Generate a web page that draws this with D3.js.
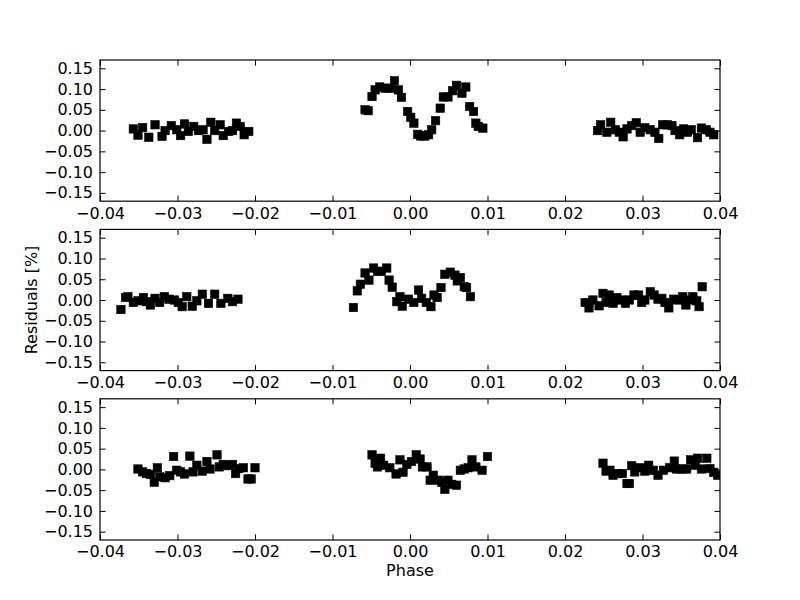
<!DOCTYPE html>
<html><head><meta charset="utf-8">
<script src="https://cdn.jsdelivr.net/npm/d3@7"></script>
<style>body{margin:0;background:#fff}svg{display:block}text{font-family:"DejaVu Sans",sans-serif}</style>
</head><body>
<svg id="c" width="800" height="600"></svg>
<script>
const xTicks = [-0.04,-0.03,-0.02,-0.01,0.0,0.01,0.02,0.03,0.04];
const yTicks = [-0.15,-0.10,-0.05,0.00,0.05,0.10,0.15];
const xLabel = "Phase";
const yLabel = "Residuals [%]";

const p1x = [-0.0357,-0.0351,-0.0345,-0.0337,-0.0329,-0.0320,-0.0316,-0.0308,-0.0301,-0.0296,-0.0291,-0.0286,-0.0279,-0.0273,-0.0267,-0.0262,-0.0257,-0.0252,-0.0245,-0.0241,-0.0234,-0.0229,-0.0224,-0.0219,-0.0214,-0.0208,
 -0.0058,-0.0054,-0.0049,-0.0045,-0.0039,-0.0032,-0.0026,-0.0020,-0.0015,-0.0011,-0.0003,0.0001,0.0005,0.0010,0.0014,0.0019,0.0024,0.0028,0.0033,0.0039,0.0043,0.0049,0.0055,0.0060,0.0067,0.0072,0.0077,0.0082,0.0085,0.0088,0.0094,
 0.0242,0.0246,0.0254,0.0259,0.0265,0.0270,0.0275,0.0280,0.0286,0.0292,0.0297,0.0303,0.0310,0.0316,0.0321,0.0326,0.0332,0.0338,0.0342,0.0348,0.0353,0.0358,0.0363,0.0371,0.0376,0.0382,0.0387,0.0392];
const p1y = [0.004,-0.011,0.007,-0.016,0.014,-0.014,0.000,0.012,0.002,-0.012,0.016,-0.002,0.010,0.000,0.002,-0.021,0.020,0.000,0.014,-0.012,-0.002,0.000,0.018,0.010,-0.010,-0.002,
 0.050,0.048,0.082,0.098,0.105,0.102,0.102,0.120,0.098,0.080,0.046,0.032,0.018,-0.009,-0.013,-0.013,-0.010,0.002,0.024,0.054,0.081,0.081,0.096,0.109,0.090,0.105,0.058,0.046,0.018,0.010,0.006,
 0.000,0.014,-0.004,0.020,0.002,-0.004,-0.015,0.004,0.012,0.019,-0.004,0.007,0.002,-0.004,-0.019,0.014,0.014,0.012,0.000,-0.010,0.004,-0.004,0.002,-0.017,0.006,0.002,-0.004,-0.010];

const p2x = [-0.0373,-0.0367,-0.0364,-0.0357,-0.0351,-0.0344,-0.0340,-0.0335,-0.0329,-0.0323,-0.0317,-0.0311,-0.0304,-0.0299,-0.0294,-0.0288,-0.0281,-0.0275,-0.0268,-0.0260,-0.0252,-0.0244,-0.0235,-0.0229,-0.0222,
 -0.0073,-0.0068,-0.0064,-0.0058,-0.0053,-0.0047,-0.0042,-0.0037,-0.0030,-0.0027,-0.0023,-0.0017,-0.0013,-0.0010,-0.0002,0.0005,0.0011,0.0015,0.0021,0.0027,0.0031,0.0035,0.0040,0.0045,0.0052,0.0058,0.0061,0.0065,0.0070,0.0073,0.0078,
 0.0226,0.0231,0.0236,0.0244,0.0249,0.0253,0.0257,0.0262,0.0267,0.0273,0.0278,0.0283,0.0289,0.0295,0.0299,0.0303,0.0310,0.0315,0.0320,0.0325,0.0329,0.0334,0.0340,0.0346,0.0352,0.0356,0.0360,0.0365,0.0370,0.0373,0.0377];
const p2y = [-0.023,0.006,0.008,-0.006,-0.002,0.006,-0.004,-0.012,0.004,-0.006,0.008,0.002,0.000,-0.006,-0.016,0.008,-0.015,-0.002,0.014,-0.008,0.014,-0.008,0.004,-0.004,0.002,
 -0.018,0.022,0.038,0.065,0.048,0.077,0.069,0.069,0.077,0.048,0.031,-0.004,0.008,-0.015,0.002,-0.006,0.024,0.004,-0.006,-0.016,0.012,0.006,0.030,0.062,0.067,0.060,0.046,0.054,0.032,0.030,0.008,
 -0.006,-0.019,0.000,-0.014,0.016,-0.006,0.012,-0.008,0.006,0.000,-0.008,0.000,0.012,0.012,-0.006,0.000,0.020,0.012,0.002,0.004,-0.006,-0.019,0.002,0.000,0.008,-0.012,0.000,0.008,-0.002,-0.016,0.032];

const p3x = [-0.0351,-0.0345,-0.0340,-0.0335,-0.0330,-0.0326,-0.0323,-0.0316,-0.0310,-0.0305,-0.0301,-0.0296,-0.0291,-0.0284,-0.0280,-0.0275,-0.0268,-0.0262,-0.0258,-0.0249,-0.0246,-0.0241,-0.0234,-0.0229,-0.0225,-0.0221,-0.0215,-0.0209,-0.0205,-0.0200,
 -0.0049,-0.0045,-0.0042,-0.0038,-0.0034,-0.0026,-0.0018,-0.0013,-0.0009,-0.0004,0.0002,0.0008,0.0013,0.0016,0.0022,0.0026,0.0030,0.0037,0.0041,0.0045,0.0049,0.0054,0.0060,0.0065,0.0070,0.0075,0.0080,0.0085,0.0093,0.0100,
 0.0249,0.0253,0.0258,0.0262,0.0268,0.0274,0.0280,0.0283,0.0286,0.0290,0.0297,0.0303,0.0308,0.0314,0.0320,0.0327,0.0335,0.0341,0.0344,0.0351,0.0357,0.0362,0.0368,0.0371,0.0376,0.0383,0.0387,0.0392,0.0397];
const p3y = [0.001,-0.006,-0.010,-0.012,-0.031,0.004,-0.018,-0.020,-0.015,0.031,-0.002,-0.006,-0.011,0.032,-0.006,0.010,-0.004,0.019,0.001,0.035,0.006,0.012,0.009,0.012,-0.010,0.002,0.004,-0.023,-0.023,0.004,
 0.035,0.015,0.006,0.027,0.010,0.004,-0.011,0.023,-0.007,0.012,0.019,0.035,0.025,0.006,0.006,-0.026,-0.014,-0.026,-0.031,-0.048,-0.026,-0.036,-0.038,-0.002,0.001,0.004,0.023,0.006,-0.002,0.031,
 0.015,-0.004,-0.002,-0.014,-0.010,-0.010,-0.034,-0.034,0.009,-0.006,0.004,-0.004,0.010,-0.002,-0.014,-0.002,0.004,0.020,0.001,0.001,0.001,0.023,0.010,0.027,0.001,0.027,0.002,-0.007,-0.014];

const panels = [[p1x,p1y],[p2x,p2y],[p3x,p3y]];

const svg = d3.select("#c");
const L = 100, R = 720, T = 60, B = 540;
const ph = (B - T) / 3.4, gap = ph * 0.2;
const fmt = d => d3.format(".2f")(d).replace("-", "\u2212");
const x = d3.scaleLinear().domain([-0.04, 0.04]).range([L, R]);
const tl = 5.6, fs = "16px";

panels.forEach(([xs, ys], i) => {
  const top = T + i * (ph + gap), bot = top + ph;
  const y = d3.scaleLinear().domain([-0.17, 0.17]).range([bot, top]);
  const g = svg.append("g");
  const clipId = "clip" + i;
  svg.append("clipPath").attr("id", clipId).append("rect").attr("x", L).attr("y", top).attr("width", R - L).attr("height", ph);
  g.append("g").attr("clip-path", `url(#${clipId})`).selectAll("rect").data(xs.map((v, k) => [v, ys[k]])).enter()
    .append("rect").attr("x", d => x(d[0]) - 4.2).attr("y", d => y(d[1]) - 4.2)
    .attr("width", 8.4).attr("height", 8.4).attr("fill", "#000").attr("stroke", "#000").attr("stroke-width", 0.6);

  const ax = g.append("g").attr("transform", `translate(0,${bot})`)
    .call(d3.axisBottom(x).tickValues(xTicks).tickFormat(fmt).tickSizeInner(-tl).tickSizeOuter(0).tickPadding(6));
  const axT = g.append("g").attr("transform", `translate(0,${top})`)
    .call(d3.axisTop(x).tickValues(xTicks).tickFormat("").tickSizeInner(-tl).tickSizeOuter(0));
  const ay = g.append("g").attr("transform", `translate(${L},0)`)
    .call(d3.axisLeft(y).tickValues(yTicks).tickFormat(fmt).tickSizeInner(-tl).tickSizeOuter(0).tickPadding(7));
  const ayR = g.append("g").attr("transform", `translate(${R},0)`)
    .call(d3.axisRight(y).tickValues(yTicks).tickFormat("").tickSizeInner(-tl).tickSizeOuter(0));
  [ax, axT, ay, ayR].forEach(a => {
    a.select(".domain").remove();
    a.selectAll("line").attr("stroke", "#000").attr("stroke-width", 1);
    a.selectAll("text").attr("font-size", fs).attr("fill", "#000").style("font-family", "DejaVu Sans");
  });
  g.append("rect").attr("x", L).attr("y", top).attr("width", R - L).attr("height", ph)
    .attr("fill", "none").attr("stroke", "#000").attr("stroke-width", 1.2);
});

svg.append("text").attr("x", 410).attr("y", 576).attr("text-anchor", "middle")
  .attr("font-size", fs).text(xLabel);
svg.append("text").attr("transform", `translate(36.5,${T + 1.5 * ph + gap}) rotate(-90)`).attr("text-anchor", "middle")
  .attr("font-size", fs).text(yLabel);
</script>
</body></html>
